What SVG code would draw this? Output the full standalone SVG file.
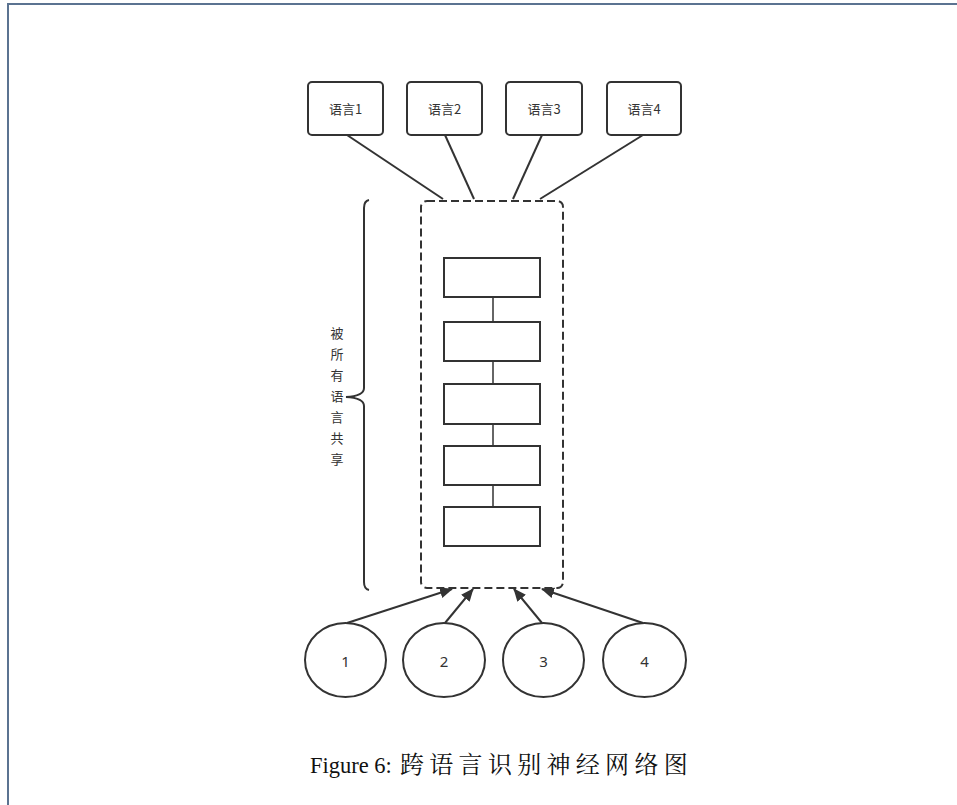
<svg xmlns="http://www.w3.org/2000/svg" width="957" height="805" viewBox="0 0 957 805">
<style>
.frame{fill:none;stroke:#5b7391;stroke-width:2}
.box{fill:#fff;stroke:#333;stroke-width:2}
.dash{fill:none;stroke:#333;stroke-width:2;stroke-dasharray:8 4}
.ln{fill:none;stroke:#333;stroke-width:2}
.thin{fill:none;stroke:#333;stroke-width:1.5}
.lbl{font-family:"Noto Sans CJK SC","Noto Sans",sans-serif;font-size:13px;fill:#333;text-anchor:middle}
.num{font-family:"Liberation Sans Narrow","Noto Sans",sans-serif;font-size:15px;fill:#333;text-anchor:middle}
.cap{font-family:"Liberation Serif","Noto Serif CJK SC","Noto Sans CJK SC",serif;font-size:22.5px;fill:#111}
.capz{font-family:"Noto Serif CJK SC","Noto Sans CJK SC",serif;font-size:24px;fill:#111;letter-spacing:5.3px}
</style>
<defs>
<marker id="ah" markerWidth="13" markerHeight="11" refX="12" refY="5.5" orient="auto" markerUnits="userSpaceOnUse" viewBox="0 0 13 11">
<path d="M0,0 L13,5.5 L0,11 Z" fill="#333"/>
</marker>
</defs>
<rect width="957" height="805" fill="#fff"/>
<path class="frame" d="M8,805 V4 H957"/>
<g id="connectors">
<line class="ln" x1="347" y1="135" x2="443" y2="199"/>
<line class="ln" x1="445" y1="135" x2="474" y2="199"/>
<line class="ln" x1="542" y1="135" x2="513" y2="199"/>
<line class="ln" x1="643" y1="135" x2="540" y2="199"/>
<line class="thin" x1="493" y1="297" x2="493" y2="322"/>
<line class="thin" x1="493" y1="361" x2="493" y2="384"/>
<line class="thin" x1="493" y1="424" x2="493" y2="446"/>
<line class="thin" x1="493" y1="485" x2="493" y2="507"/>
<line class="ln" x1="347" y1="623" x2="452" y2="589" marker-end="url(#ah)"/>
<line class="ln" x1="445" y1="623" x2="473" y2="589" marker-end="url(#ah)"/>
<line class="ln" x1="542" y1="623" x2="514" y2="589" marker-end="url(#ah)"/>
<line class="ln" x1="643" y1="623" x2="542" y2="589" marker-end="url(#ah)"/>
</g>
<g id="lang1"><rect class="box" x="308" y="82" width="75" height="53" rx="4"/><text class="lbl" x="345.5" y="114">语言1</text></g>
<g id="lang2"><rect class="box" x="407" y="82" width="75" height="53" rx="4"/><text class="lbl" x="444.5" y="114">语言2</text></g>
<g id="lang3"><rect class="box" x="506" y="82" width="76" height="53" rx="4"/><text class="lbl" x="544" y="114">语言3</text></g>
<g id="lang4"><rect class="box" x="607" y="82" width="74" height="53" rx="4"/><text class="lbl" x="644" y="114">语言4</text></g>
<g id="shared">
<rect class="dash" x="421" y="201" width="142" height="387" rx="6"/>
</g>
<g id="layer1"><rect class="box" x="444" y="258" width="96" height="39"/></g>
<g id="layer2"><rect class="box" x="444" y="322" width="96" height="39"/></g>
<g id="layer3"><rect class="box" x="444" y="384" width="96" height="40"/></g>
<g id="layer4"><rect class="box" x="444" y="446" width="96" height="39"/></g>
<g id="layer5"><rect class="box" x="444" y="507" width="96" height="39"/></g>
<g id="brace">
<path class="ln" d="M369,200 Q364,201 364,208 V388 Q364,396 346,397 Q364,398 364,406 V582 Q364,589 369,590"/>
<text class="lbl" x="337" y="338">被</text>
<text class="lbl" x="337" y="359">所</text>
<text class="lbl" x="337" y="380">有</text>
<text class="lbl" x="337" y="401">语</text>
<text class="lbl" x="337" y="422">言</text>
<text class="lbl" x="337" y="443">共</text>
<text class="lbl" x="337" y="464">享</text>
</g>
<g id="in1"><ellipse class="box" cx="345.5" cy="660" rx="40.5" ry="37"/><text class="num" x="345.5" y="667">1</text></g>
<g id="in2"><ellipse class="box" cx="444" cy="660" rx="41" ry="37"/><text class="num" x="444" y="667">2</text></g>
<g id="in3"><ellipse class="box" cx="543.5" cy="660" rx="40.5" ry="37"/><text class="num" x="543.5" y="667">3</text></g>
<g id="in4"><ellipse class="box" cx="644.5" cy="660" rx="41.5" ry="37"/><text class="num" x="644.5" y="667">4</text></g>
<text class="cap" x="310" y="773">Figure 6: <tspan class="capz" x="400">跨语言识别神经网络图</tspan></text>
</svg>
